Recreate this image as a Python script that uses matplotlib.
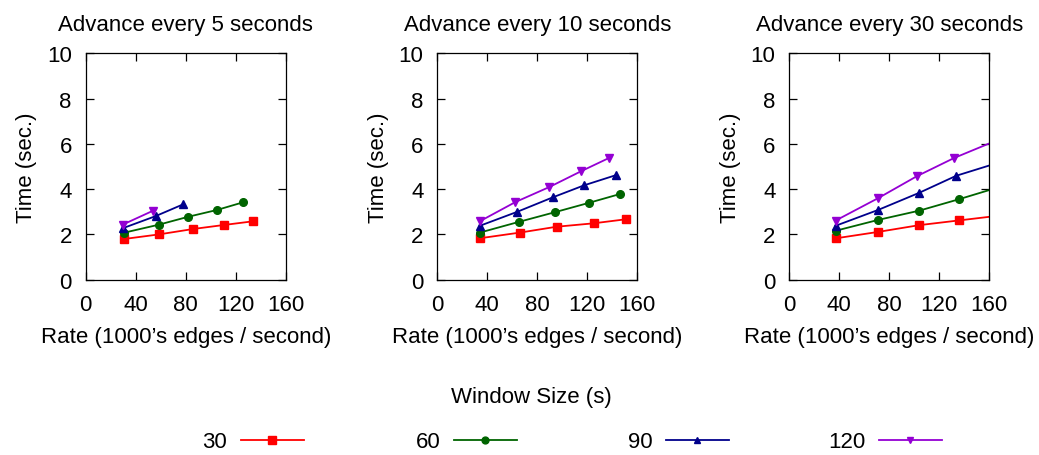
import matplotlib
matplotlib.use("Agg")
import matplotlib.pyplot as plt

plt.rcParams['font.family'] = ['Liberation Sans', 'DejaVu Sans']

# panel titles
titles = ['Advance every 5 seconds', 'Advance every 10 seconds', 'Advance every 30 seconds']
windows = ['30', '60', '90', '120']

# rate (x) and time (y) per panel, per window size
rate_5 = [[31, 58.5, 86, 111, 134],
          [31, 58.5, 82, 105, 126],
          [30, 56, 78],
          [29.5, 54]]
time_5 = [[1.80, 2.00, 2.24, 2.42, 2.58],
          [2.08, 2.43, 2.78, 3.08, 3.42],
          [2.28, 2.81, 3.33],
          [2.43, 3.05]]

rate_10 = [[34, 66, 95.5, 125, 151],
           [34, 65, 94, 121, 146.5],
           [34, 64, 92.5, 117.5, 143],
           [34, 62.5, 89.5, 115, 137.5]]
time_10 = [[1.83, 2.08, 2.34, 2.49, 2.67],
           [2.08, 2.55, 2.98, 3.39, 3.79],
           [2.38, 3.00, 3.64, 4.17, 4.62],
           [2.58, 3.43, 4.09, 4.79, 5.38]]

rate_30 = [[37.5, 71, 104, 136, 168],
           [37, 71, 104, 135.5, 166],
           [37, 71, 104, 133.5, 165],
           [37, 71, 102, 132, 164]]
time_30 = [[1.83, 2.11, 2.41, 2.62, 2.83],
           [2.16, 2.64, 3.05, 3.55, 4.06],
           [2.38, 3.08, 3.84, 4.59, 5.13],
           [2.61, 3.60, 4.57, 5.38, 6.11]]

rates = [rate_5, rate_10, rate_30]
times = [time_5, time_10, time_30]

colors = ['#ff0000', '#006400', '#00008b', '#9400d3']
markers = ['s', 'o', '^', 'v']
msizes = [6, 5.5, 5.5, 5.5]

W, H = 1039, 456
fig = plt.figure(figsize=(W / 100, H / 100), dpi=100)

lefts = [85.7, 437.3, 789.3]
fs = 16
for p in range(3):
    ax = fig.add_axes([lefts[p] / W, (H - 280.7) / H, 200 / W, 226.4 / H])
    for i in range(len(rates[p])):
        ax.plot(rates[p][i], times[p][i], color=colors[i], marker=markers[i],
                markersize=msizes[i], linewidth=1.3, label=windows[i])
    ax.set_xlim(0, 160)
    ax.set_ylim(0, 10)
    ax.set_xticks([0, 40, 80, 120, 160])
    ax.set_yticks([0, 2, 4, 6, 8, 10])
    ax.tick_params(direction='in', length=5.5, width=0.9, top=True, right=True,
                   labelsize=fs)
    ax.tick_params(axis='y', pad=10)
    ax.tick_params(axis='x', pad=10)
    for s in ax.spines.values():
        s.set_linewidth(0.9)
    ax.set_title(titles[p], fontsize=fs, pad=17)
    ax.set_xlabel("Rate (1000\u2019s edges / second)", fontsize=fs, labelpad=8)
    ax.set_ylabel('Time (sec.)', fontsize=fs, labelpad=7)
    if p == 0:
        handles, labels = ax.get_legend_handles_labels()

fig.text(531 / W, 1 - 398 / H, 'Window Size (s)', fontsize=fs, ha='center', va='center')

# one key entry per series, text right-aligned before the sample line
key_right = [304, 517, 729, 942]
for h, lab, xr in zip(handles, labels, key_right):
    fig.legend([h], [lab], loc='center right', bbox_to_anchor=(xr / W, 1 - 443 / H),
               frameon=False, markerfirst=False, fontsize=fs,
               handlelength=2.85, handletextpad=0.6,
               borderpad=0, borderaxespad=0, markerscale=0.9)

fig.savefig('out.png', dpi=100)
